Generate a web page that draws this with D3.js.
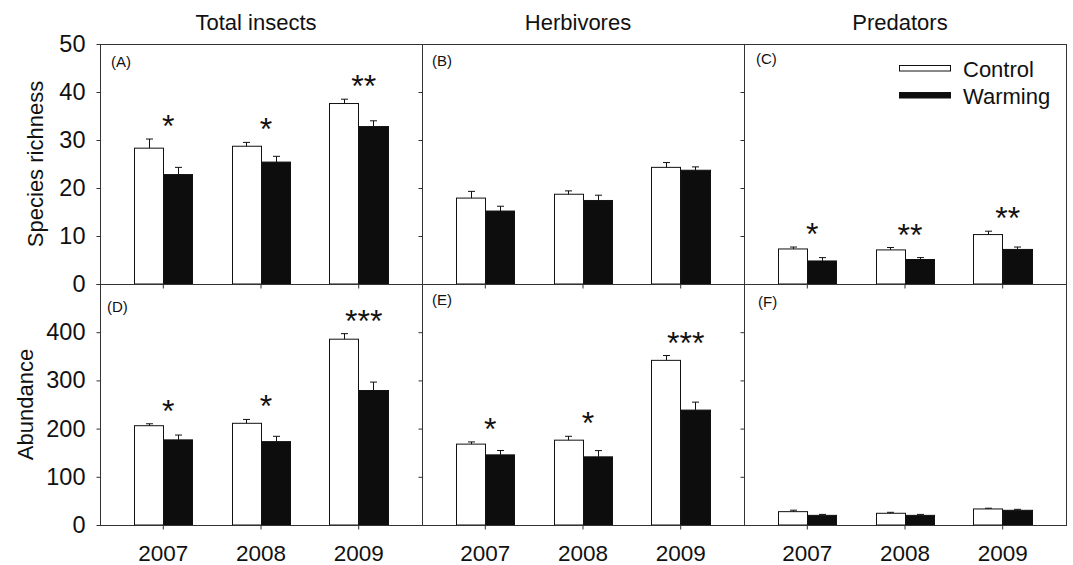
<!DOCTYPE html>
<html><head><meta charset="utf-8">
<script src="https://cdn.jsdelivr.net/npm/d3@7"></script>
<style>body{margin:0;background:#fff}svg{display:block;font-family:"Liberation Sans",Arial,sans-serif}</style>
</head><body><svg id="chart" width="1073" height="565"></svg>
<script>
// ---------- data ----------
const years = ["2007", "2008", "2009"];
const treatments = ["Control", "Warming"];
const groupTitles = ["Total insects", "Herbivores", "Predators"];
const rowTitles = ["Species richness", "Abundance"];
const panelLetters = ["(A)", "(B)", "(C)", "(D)", "(E)", "(F)"];
const richnessTicks = [0, 10, 20, 30, 40, 50];
const abundanceTicks = [0, 100, 200, 300, 400];

// Species richness
const richTotalControl = [28.3, 28.7, 37.6];
const richTotalControlSE = [1.9, 0.8, 0.9];
const richTotalWarming = [22.8, 25.4, 32.8];
const richTotalWarmingSE = [1.5, 1.2, 1.2];
const richTotalSig = ["*", "*", "**"];

const richHerbControl = [17.9, 18.7, 24.3];
const richHerbControlSE = [1.4, 0.7, 1.0];
const richHerbWarming = [15.2, 17.4, 23.7];
const richHerbWarmingSE = [1.0, 1.1, 0.7];
const richHerbSig = ["", "", ""];

const richPredControl = [7.3, 7.1, 10.3];
const richPredControlSE = [0.4, 0.5, 0.7];
const richPredWarming = [4.8, 5.1, 7.2];
const richPredWarmingSE = [0.7, 0.4, 0.5];
const richPredSig = ["*", "**", "**"];

// Abundance
const abunTotalControl = [206, 211, 385.5];
const abunTotalControlSE = [4, 8, 11.5];
const abunTotalWarming = [176.6, 173, 279];
const abunTotalWarmingSE = [10, 11, 17.5];
const abunTotalSig = ["*", "*", "***"];

const abunHerbControl = [167.8, 176, 341.6];
const abunHerbControlSE = [4.5, 8, 10];
const abunHerbWarming = [145.5, 141.4, 238.4];
const abunHerbWarmingSE = [9, 13, 16.5];
const abunHerbSig = ["*", "*", "***"];

const abunPredControl = [27.7, 24.3, 33.3];
const abunPredControlSE = [3, 2, 1.5];
const abunPredWarming = [20, 20, 30.5];
const abunPredWarmingSE = [2, 2, 2];
const abunPredSig = ["", "", ""];

// ---------- layout ----------
const svg = d3.select("#chart");
const colX = [100, 422, 744];
const colW = 322;
const rows = [
  {top: 44, bottom: 284, domain: [0, 50], ticks: richnessTicks},
  {top: 284, bottom: 525, domain: [0, 500], ticks: abundanceTicks}
];
const letterOffsets = [[11, 23], [10, 22], [12, 20], [7, 28], [10, 21], [14, 23]];
const FONT = 22;
const YTICK_FONT = 23.5;
const XTICK_FONT = 22.5;
const FF = "Liberation Sans, Arial, sans-serif";

const panelData = [
  [[richTotalControl, richTotalControlSE, richTotalWarming, richTotalWarmingSE, richTotalSig],
   [richHerbControl, richHerbControlSE, richHerbWarming, richHerbWarmingSE, richHerbSig],
   [richPredControl, richPredControlSE, richPredWarming, richPredWarmingSE, richPredSig]],
  [[abunTotalControl, abunTotalControlSE, abunTotalWarming, abunTotalWarmingSE, abunTotalSig],
   [abunHerbControl, abunHerbControlSE, abunHerbWarming, abunHerbWarmingSE, abunHerbSig],
   [abunPredControl, abunPredControlSE, abunPredWarming, abunPredWarmingSE, abunPredSig]]
];
const fills = {Control: "#ffffff", Warming: "#0d0d0d"};

rows.forEach((row, ri) => {
  const y = d3.scaleLinear().domain(row.domain).range([row.bottom, row.top]);
  colX.forEach((px, ci) => {
    const [cv, cse, wv, wse, sig] = panelData[ri][ci];
    const x0 = d3.scaleBand().domain(years).range([px, px + colW]).paddingInner(0.4).paddingOuter(0.348);
    const x1 = d3.scaleBand().domain(treatments).range([0, x0.bandwidth()]);
    const g = svg.append("g");

    const recs = [];
    years.forEach((yr, i) => {
      recs.push({year: yr, t: "Control", v: cv[i], se: cse[i]});
      recs.push({year: yr, t: "Warming", v: wv[i], se: wse[i]});
    });

    // y axis (left, outward ticks)
    const yAxis = d3.axisLeft(y).tickValues(ri === 1 ? abundanceTicks.concat([500]) : row.ticks)
      .tickSize(4).tickPadding(10)
      .tickFormat(d => (ci === 0 && !(ri === 1 && d === 500)) ? d : "");
    const ya = g.append("g").attr("transform", `translate(${px + 0.5},0)`).call(yAxis);
    ya.select(".domain").remove();
    ya.selectAll("line").attr("stroke", "#333");
    ya.selectAll("text").attr("font-size", YTICK_FONT).attr("font-family", FF).attr("fill", "#111").attr("dx", "-1");

    // x axis
    const xAxis = d3.axisBottom(x0).tickSize(4).tickPadding(16).tickFormat(d => ri === 1 ? d : "");
    const xa = g.append("g").attr("transform", `translate(0,${row.bottom + 0.5})`).call(xAxis);
    xa.select(".domain").remove();
    xa.selectAll("line").attr("stroke", "#333");
    xa.selectAll("text").attr("font-size", XTICK_FONT).attr("font-family", FF).attr("fill", "#111");

    // bars
    g.selectAll("rect.bar").data(recs).join("rect").attr("class", "bar")
      .attr("x", d => Math.round(x0(d.year) + x1(d.t)) + 0.5)
      .attr("width", Math.round(x1.bandwidth()))
      .attr("y", d => y(d.v))
      .attr("height", d => y(0) - y(d.v))
      .attr("fill", d => fills[d.t])
      .attr("stroke", "#111").attr("stroke-width", 1);

    // error bars (upper only)
    const cx = d => Math.round(x0(d.year) + x1(d.t) + x1.bandwidth() / 2) + 0.5;
    g.selectAll("line.err").data(recs).join("line").attr("class", "err")
      .attr("x1", cx).attr("x2", cx)
      .attr("y1", d => y(d.v)).attr("y2", d => y(d.v + d.se))
      .attr("stroke", "#111").attr("stroke-width", 1);
    g.selectAll("line.cap").data(recs).join("line").attr("class", "cap")
      .attr("x1", d => cx(d) - 3.5).attr("x2", d => cx(d) + 3.5)
      .attr("y1", d => y(d.v + d.se)).attr("y2", d => y(d.v + d.se))
      .attr("stroke", "#111").attr("stroke-width", 1);

    // significance
    g.selectAll("text.sig").data(years.map((yr, i) => ({year: yr, s: sig[i], top: Math.max(cv[i] + cse[i], wv[i] + wse[i])})))
      .join("text").attr("class", "sig")
      .attr("x", d => x0(d.year) + x0.bandwidth() / 2 + 5)
      .attr("y", d => y(d.top) - 2)
      .attr("text-anchor", "middle")
      .attr("font-size", 32).attr("fill", "#111")
      .text(d => d.s);

    // frame
    g.append("rect").attr("x", px + 0.5).attr("y", row.top + 0.5)
      .attr("width", colW).attr("height", row.bottom - row.top)
      .attr("fill", "none").attr("stroke", "#333").attr("stroke-width", 1);

    // panel letter
    const k = ri * 3 + ci;
    g.append("text").attr("x", px + letterOffsets[k][0]).attr("y", row.top + letterOffsets[k][1])
      .attr("font-size", 15).attr("fill", "#111").text(panelLetters[k]);

    // column titles
    if (ri === 0) {
      svg.append("text").attr("x", px + colW / 2 - 5).attr("y", 30)
        .attr("text-anchor", "middle").attr("font-size", FONT).attr("fill", "#111").text(groupTitles[ci]);
    }
  });
});

// row titles
svg.append("text").attr("transform", "translate(43,164) rotate(-90)")
  .attr("text-anchor", "middle").attr("font-size", FONT).attr("fill", "#111").text(rowTitles[0]);
svg.append("text").attr("transform", "translate(33,404.5) rotate(-90)")
  .attr("text-anchor", "middle").attr("font-size", FONT).attr("fill", "#111").text(rowTitles[1]);

// legend
const lg = svg.append("g");
treatments.forEach((t, i) => {
  const by = 77 + i * 27;
  lg.append("rect").attr("x", 899.5).attr("y", by - 11.5).attr("width", 51).attr("height", 5.5)
    .attr("fill", fills[t]).attr("stroke", "#111").attr("stroke-width", 1);
  lg.append("text").attr("x", 963).attr("y", by).attr("font-size", FONT).attr("fill", "#111").text(t);
});
</script></body></html>
